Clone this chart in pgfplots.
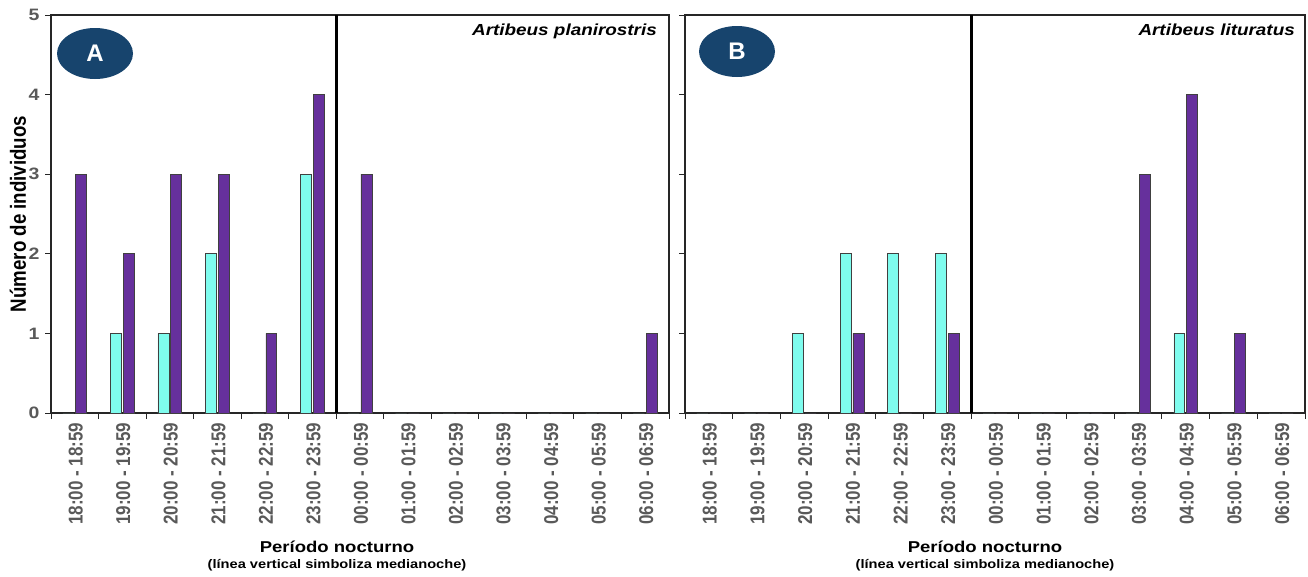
\documentclass[border=0pt]{standalone}
\usepackage{fontspec}
\setmainfont{Liberation Sans}
% the reference is stretched sideways, so horizontal and rotated text get different fake stretches
\newfontfamily\hfont[FakeStretch=1.18]{Liberation Sans}
\newfontfamily\vfont[FakeStretch=0.85]{Liberation Sans}
\usepackage{pgfplots}
\usepackage{pgfplotstable}
\pgfplotsset{compat=1.18}

\definecolor{cyanbar}{HTML}{7FFCEE}
\definecolor{purplebar}{HTML}{66309C}
\definecolor{badge}{HTML}{17446D}
\definecolor{ticktext}{HTML}{595959}

% idx 0 = 18:00-18:59 ... idx 12 = 06:00-06:59
\pgfplotstableread{
idx cyan purple
0  0 3
1  1 2
2  1 3
3  2 3
4  0 1
5  3 4
6  0 3
7  0 0
8  0 0
9  0 0
10 0 0
11 0 0
12 0 1
}\planirostris

\pgfplotstableread{
idx cyan purple
0  0 0
1  0 0
2  1 0
3  2 1
4  2 0
5  2 1
6  0 0
7  0 0
8  0 0
9  0 3
10 1 4
11 0 1
12 0 0
}\lituratus

\pgfplotsset{
  panel/.style={
    scale only axis, width=618pt, height=398pt,
    anchor=south west,
    xmin=-0.5, xmax=12.5, ymin=0, ymax=5,
    clip=false,
    xtick={0,...,12},
    xticklabels={18:00 - 18:59, 19:00 - 19:59, 20:00 - 20:59, 21:00 - 21:59,
      22:00 - 22:59, 23:00 - 23:59, 00:00 - 00:59, 01:00 - 01:59,
      02:00 - 02:59, 03:00 - 03:59, 04:00 - 04:59, 05:00 - 05:59, 06:00 - 06:59},
    minor xtick={-0.5,0.5,...,12.5},
    major x tick style={draw=none},
    ytick={0,...,5},
    tick align=outside, tick pos=left,
    major tick length=6pt, minor tick length=6pt,
    every tick/.style={black!85, line width=1pt},
    axis line style={black!85, line width=1.4pt},
    /pgf/number format/assume math mode=true,
    x tick label style={rotate=90, anchor=east, text=ticktext,
      font=\vfont\bfseries\fontsize{20}{20}\selectfont, yshift=-1pt},
    y tick label style={text=ticktext,
      font=\hfont\bfseries\fontsize{16.5}{16.5}\selectfont, xshift=-2pt},
  },
  cyanbars/.style={ybar, bar width=0.23, bar shift=-0.135,
    fill=cyanbar, draw=black!75, line width=0.7pt},
  purplebars/.style={ybar, bar width=0.23, bar shift=0.135,
    fill=purplebar, draw=black!75, line width=0.7pt},
}

\begin{document}
\begin{tikzpicture}
\useasboundingbox (0,0) rectangle (1308pt,576pt);

% panel A
\begin{axis}[panel, at={(51pt,163pt)}]
\addplot[cyanbars] table[x=idx, y=cyan] {\planirostris};
\addplot[purplebars] table[x=idx, y=purple] {\planirostris};
\addplot[black, line width=2.8pt] coordinates {(5.5,0) (5.5,5)};
\fill[badge] (rel axis cs:0,1) ++(44pt,-38.5pt) ellipse[x radius=38pt, y radius=25.5pt];
\node[white, font=\bfseries\fontsize{24}{24}\selectfont]
  at ([xshift=44pt, yshift=-38.5pt]rel axis cs:0,1) {A};
\node[anchor=north east, inner sep=0pt,
  font=\hfont\bfseries\itshape\fontsize{16}{16}\selectfont]
  at ([xshift=-12pt, yshift=-9pt]rel axis cs:1,1) {Artibeus planirostris};
\end{axis}

% panel B
\begin{axis}[panel, at={(685pt,163pt)}, width=620pt, yticklabels={}]
\addplot[cyanbars] table[x=idx, y=cyan] {\lituratus};
\addplot[purplebars] table[x=idx, y=purple] {\lituratus};
\addplot[black, line width=2.8pt] coordinates {(5.5,0) (5.5,5)};
\fill[badge] (rel axis cs:0,1) ++(52pt,-36.5pt) ellipse[x radius=38pt, y radius=25.5pt];
\node[white, font=\bfseries\fontsize{24}{24}\selectfont]
  at ([xshift=52pt, yshift=-36.5pt]rel axis cs:0,1) {B};
\node[anchor=north east, inner sep=0pt,
  font=\hfont\bfseries\itshape\fontsize{16}{16}\selectfont]
  at ([xshift=-10pt, yshift=-9pt]rel axis cs:1,1) {Artibeus lituratus};
\end{axis}

% axis titles
\node[rotate=90, font=\vfont\bfseries\fontsize{22}{22}\selectfont]
  at (18pt,362pt) {Número de individuos};
\foreach \cx in {337pt,985pt}{
  \node[anchor=base, inner sep=0pt, font=\hfont\bfseries\fontsize{15.7}{15.7}\selectfont]
    at (\cx,24pt) {Período nocturno};
  \node[anchor=base, inner sep=0pt, font=\hfont\bfseries\fontsize{12.4}{12.4}\selectfont]
    at (\cx,8pt) {(línea vertical simboliza medianoche)};
}
\end{tikzpicture}
\end{document}
